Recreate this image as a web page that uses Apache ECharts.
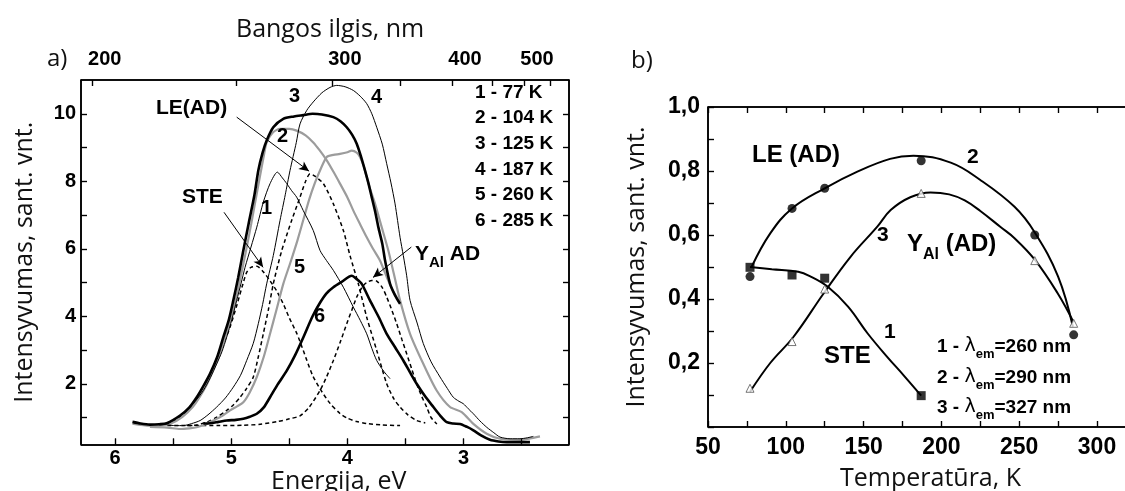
<!DOCTYPE html>
<html><head><meta charset="utf-8">
<script src="https://cdn.jsdelivr.net/npm/echarts@6/dist/echarts.min.js"></script>
<style>html,body{margin:0;padding:0;background:#fff;overflow:hidden}#c{width:1125px;height:491px}</style>
</head><body><div id="c"></div>
<script>
// ---------- Panel a: spectra, [energy eV, intensity] ----------
const spec77K = [[5.62,0.78],[5.555,0.81],[5.47,0.98],[5.383,1.21],[5.31,1.48],[5.24,1.80],[5.18,2.18],[5.125,2.59],[5.08,2.95],[5.039,3.38],[4.995,3.90],[4.953,4.47],[4.915,4.98],[4.881,5.45],[4.83,6.05],[4.78,6.64],[4.724,7.38],[4.666,7.93],[4.603,8.27],[4.56,8.10],[4.522,7.93],[4.48,7.72],[4.437,7.53],[4.38,7.13],[4.294,6.54],[4.236,5.95],[4.18,5.65],[4.121,5.36],[4.035,4.86],[3.949,4.27],[3.89,3.88],[3.834,3.48],[3.79,3.05],[3.748,2.69],[3.69,2.38],[3.633,2.15]];
const spec104K = [[5.85,0.82],[5.70,0.76],[5.60,0.77],[5.52,0.82],[5.42,1.02],[5.33,1.32],[5.27,1.62],[5.21,1.98],[5.16,2.36],[5.10,2.85],[5.05,3.40],[5.00,3.95],[4.96,4.50],[4.92,5.15],[4.875,5.90],[4.83,6.70],[4.785,7.55],[4.75,8.20],[4.72,8.75],[4.695,9.15],[4.64,9.45],[4.58,9.55],[4.50,9.55],[4.437,9.50],[4.36,9.36],[4.294,9.15],[4.24,8.92],[4.178,8.62],[4.12,8.28],[4.064,7.93],[4.00,7.52],[3.949,7.13],[3.89,6.72],[3.834,6.34],[3.78,6.00],[3.72,5.65],[3.66,5.15],[3.60,4.70],[3.54,4.35]];
const spec125K = [[5.85,0.87],[5.78,0.82],[5.70,0.79],[5.62,0.80],[5.555,0.83],[5.44,1.06],[5.36,1.30],[5.297,1.60],[5.24,1.93],[5.182,2.30],[5.12,2.80],[5.068,3.38],[5.02,3.90],[4.982,4.47],[4.94,5.15],[4.896,5.95],[4.85,6.75],[4.80,7.60],[4.767,8.32],[4.73,8.85],[4.695,9.21],[4.638,9.60],[4.552,9.85],[4.46,9.92],[4.38,9.96],[4.30,10.0],[4.22,9.98],[4.121,9.90],[4.06,9.78],[4.006,9.60],[3.96,9.38],[3.92,9.11],[3.885,8.75],[3.849,8.32],[3.82,7.95],[3.791,7.53],[3.76,7.08],[3.734,6.64],[3.70,6.15],[3.676,5.65],[3.633,4.96],[3.59,4.62],[3.547,4.37]];
const spec187K = [[5.55,0.78],[5.48,0.76],[5.412,0.76],[5.34,0.82],[5.268,0.91],[5.20,1.08],[5.125,1.31],[5.05,1.58],[4.982,1.90],[4.92,2.25],[4.867,2.69],[4.81,3.20],[4.767,3.78],[4.73,4.35],[4.695,4.96],[4.638,5.80],[4.58,6.84],[4.535,7.60],[4.494,8.32],[4.44,9.15],[4.408,9.70],[4.35,10.1],[4.294,10.35],[4.22,10.62],[4.15,10.78],[4.092,10.84],[4.02,10.80],[3.949,10.69],[3.89,10.52],[3.834,10.30],[3.79,10.0],[3.748,9.60],[3.70,9.10],[3.662,8.52],[3.625,7.95],[3.59,7.33],[3.547,6.34],[3.519,5.80],[3.49,5.20],[3.461,4.47],[3.40,3.80],[3.347,3.19],[3.28,2.65],[3.203,2.20],[3.14,1.86],[3.089,1.60],[3.04,1.48],[3.003,1.41],[2.96,1.26],[2.916,1.11],[2.86,0.90],[2.801,0.71],[2.74,0.55],[2.687,0.42],[2.60,0.37],[2.515,0.37],[2.45,0.40],[2.40,0.44]];
const spec260K = [[5.70,0.72],[5.55,0.70],[5.44,0.66],[5.36,0.68],[5.297,0.71],[5.22,0.80],[5.154,0.91],[5.08,1.04],[5.01,1.21],[4.95,1.33],[4.896,1.45],[4.84,1.75],[4.78,2.20],[4.72,2.80],[4.666,3.48],[4.61,4.20],[4.552,4.96],[4.49,5.60],[4.43,6.25],[4.38,6.85],[4.33,7.45],[4.28,7.95],[4.236,8.32],[4.178,8.72],[4.12,8.78],[4.064,8.81],[4.00,8.86],[3.963,8.91],[3.92,8.85],[3.892,8.72],[3.86,8.45],[3.834,8.12],[3.80,7.72],[3.762,7.33],[3.705,6.64],[3.648,5.95],[3.60,5.25],[3.547,4.47],[3.461,3.48],[3.347,2.59],[3.232,1.80],[3.117,1.31],[3.016,1.16],[2.916,0.81],[2.801,0.52],[2.687,0.37],[2.515,0.34],[2.343,0.44]];
const spec285K = [[5.24,0.82],[5.182,0.83],[5.11,0.87],[5.039,0.91],[4.96,0.93],[4.896,0.96],[4.84,1.02],[4.78,1.11],[4.72,1.30],[4.666,1.60],[4.60,1.98],[4.522,2.39],[4.45,2.85],[4.379,3.38],[4.30,4.00],[4.236,4.40],[4.18,4.68],[4.121,4.86],[4.05,5.02],[3.963,5.20],[3.92,5.10],[3.877,4.96],[3.806,4.47],[3.73,3.97],[3.662,3.48],[3.59,3.08],[3.519,2.69],[3.46,2.33],[3.404,2.00],[3.33,1.62],[3.26,1.31],[3.20,1.05],[3.145,0.86],[3.09,0.82],[3.031,0.81],[2.97,0.72],[2.916,0.62],[2.85,0.47],[2.773,0.34],[2.70,0.29],[2.629,0.27],[2.52,0.27],[2.429,0.27]];
const gaussSTE = [[5.62,0.78],[5.527,0.81],[5.45,1.00],[5.383,1.21],[5.31,1.52],[5.24,1.90],[5.18,2.30],[5.125,2.69],[5.07,3.15],[5.01,3.68],[4.95,4.35],[4.90,4.95],[4.867,5.30],[4.83,5.45],[4.78,5.48],[4.72,5.30],[4.666,5.05],[4.609,4.75],[4.55,4.35],[4.50,3.95],[4.437,3.50],[4.408,3.25],[4.35,2.70],[4.30,2.25],[4.236,1.85],[4.15,1.42],[4.064,1.12],[4.00,0.98],[3.92,0.88],[3.834,0.82],[3.70,0.78],[3.547,0.76]];
const gaussLE = [[5.38,0.76],[5.30,0.78],[5.211,0.86],[5.12,1.02],[5.039,1.21],[4.98,1.38],[4.924,1.60],[4.87,1.85],[4.81,2.20],[4.77,2.75],[4.724,3.48],[4.68,4.20],[4.638,4.96],[4.60,5.50],[4.565,5.95],[4.537,6.25],[4.48,6.84],[4.408,7.53],[4.36,8.00],[4.322,8.22],[4.28,8.15],[4.207,7.93],[4.121,7.33],[4.035,6.54],[3.978,5.80],[3.906,4.96],[3.834,3.97],[3.748,2.99],[3.662,2.00],[3.60,1.55],[3.547,1.31],[3.48,1.08],[3.404,0.91],[3.33,0.84]];
const gaussYAl = [[5.55,0.76],[5.30,0.76],[5.10,0.76],[4.90,0.77],[4.75,0.80],[4.60,0.88],[4.50,0.96],[4.408,1.05],[4.33,1.30],[4.236,1.80],[4.18,2.20],[4.121,2.69],[4.06,3.25],[4.006,3.78],[3.96,4.20],[3.92,4.57],[3.87,4.88],[3.834,5.00],[3.79,5.06],[3.748,5.04],[3.70,4.85],[3.662,4.57],[3.62,4.20],[3.576,3.78],[3.53,3.30],[3.49,2.89],[3.445,2.42],[3.404,2.00],[3.36,1.62],[3.318,1.31],[3.28,1.00],[3.23,0.81]];
// arrows [from, to] in data coords
const arrowLE = [[4.953,9.90],[4.33,8.30]];
const arrowSTE = [[5.062,7.08],[4.726,5.45]];
const arrowYAl = [[3.45,6.05],[3.78,5.15]];

// Panel a ticks
const energyTicks = [6,5.5,5,4.5,4,3.5,3,2.5];
const energyLabels = [6,5,4,3];
const wlTicks = [200,250,300,350,400,450,500,550];
const wlLabels = [200,300,400,500];
const intTicks = [1,2,3,4,5,6,7,8,9,10];
const intLabels = [2,4,6,8,10];

// ---------- Panel b: temperature dependences ----------
const tempK = [77,104,125,187,260,285];
const steVals = [0.499,0.475,0.465,0.098];
const leVals = [0.47,0.683,0.746,0.832,0.60,0.288];
const yalVals = [0.121,0.267,0.431,0.730,0.52,0.324];
const fitSTE = [[77,0.50],[91,0.493],[108,0.485],[116,0.47],[127,0.438],[140,0.376],[152.5,0.293],[165,0.22],[176,0.16],[187,0.098]];
const fitLE = [[78,0.50],[90,0.605],[104,0.683],[125,0.746],[146,0.798],[167,0.838],[182,0.848],[206,0.826],[225,0.772],[247,0.688],[260,0.608],[275,0.47],[284.5,0.313]];
const fitYAl = [[77,0.11],[90,0.20],[105,0.282],[124.4,0.418],[141.6,0.532],[158.8,0.626],[167.4,0.678],[180,0.718],[193,0.733],[205,0.727],[215,0.708],[225,0.675],[238,0.625],[247,0.59],[260,0.523],[274.7,0.418],[285,0.327]];
const tempTicks = [50,75,100,125,150,175,200,225,250,275,300,325];
const tempLabels = [50,100,150,200,250,300];
const relTicks = [0,0.1,0.2,0.3,0.4,0.5,0.6,0.7,0.8,0.9,1.0];
const relLabels = [0.2,0.4,0.6,0.8,1.0];

const NUM = 'Liberation Sans';
const TITLE = 'Open Sans';

function ax(extra) {
  const base = {
    type: 'value',
    axisLine: {show: true, onZero: false, lineStyle: {color: '#000', width: 1.5}},
    axisTick: {show: true, inside: true, length: 6, lineStyle: {color: '#000', width: 1.2}},
    splitLine: {show: false},
    minorTick: {show: false},
    axisLabel: {show: false}
  };
  return Object.assign(base, extra);
}
function lbl(size, margin, values, fmt, extra) {
  return Object.assign({show: true, customValues: values, color: '#000', fontFamily: NUM, fontWeight: 'bold', fontSize: size, margin: margin, formatter: fmt}, extra || {});
}
function ticks(values) {
  return {show: true, inside: true, length: 6, customValues: values, lineStyle: {color: '#000', width: 1.2}};
}
function yName(text, gap) {
  return {name: text, nameLocation: 'middle', nameGap: gap, nameRotate: 90, nameMoveOverlap: false,
    nameTextStyle: {fontFamily: TITLE, fontSize: 25, color: '#111', fontWeight: 'normal'}};
}

const gridA = {left: 81, top: 80, width: 488, height: 364.5};
const gridB = {left: 708, top: 107, width: 435.7, height: 320};
const xA = {min: 2.093, max: 6.293, inverse: true};
const yA = {min: 0.2, max: 11.0};
const xB = {min: 50, max: 330};
const yB = {min: 0, max: 1.0};

// tick length 6 px expressed in axis units
const TL = 6;
const dxA = TL * (xA.max - xA.min) / gridA.width;
const dyA = TL * (yA.max - yA.min) / gridA.height;
const dxB = TL * (xB.max - xB.min) / gridB.width;
const dyB = TL * (yB.max - yB.min) / gridB.height;

function seg(a, b, w) {
  const s = [{coord: a}, {coord: b}];
  if (w) s[0].lineStyle = {width: w, color: '#000', type: 'solid'};
  return s;
}
// Frame + inside ticks as mark lines (drawn through the axes' own scales)
const marksA = [
  seg([xA.max, yA.min], [xA.min, yA.min], 1.6),
  seg([xA.max, yA.max], [xA.min, yA.max], 1.6),
  seg([xA.max, yA.min], [xA.max, yA.max], 1.6),
  seg([xA.min, yA.min], [xA.min, yA.max], 1.6)
].concat(
  energyTicks.map(v => seg([v, yA.min], [v, yA.min + dyA])),
  wlTicks.map(w => seg([1240 / w, yA.max], [1240 / w, yA.max - dyA])),
  intTicks.map(v => seg([xA.max, v], [xA.max - dxA, v])),
  intTicks.map(v => seg([xA.min, v], [xA.min + dxA, v]))
);
const marksB = [
  seg([xB.min, yB.min], [xB.max, yB.min], 1.6),
  seg([xB.min, yB.max], [xB.max, yB.max], 1.6),
  seg([xB.min, yB.min], [xB.min, yB.max], 1.6)
].concat(
  tempTicks.map(t => seg([t, yB.min], [t, yB.min + dyB])),
  tempTicks.map(t => seg([t, yB.max], [t, yB.max - dyB])),
  relTicks.map(v => seg([xB.min, v], [xB.min + dxB, v]))
);
function frameMarks(data) {
  return {silent: true, animation: false, symbol: 'none', label: {show: false}, emphasis: {disabled: true},
    lineStyle: {color: '#000', width: 1.2, type: 'solid'}, data: data};
}

function line(data, color, width, dashed, extra) {
  return Object.assign({
    type: 'line', xAxisIndex: 0, yAxisIndex: 0, data: data, showSymbol: false, smooth: 0.25,
    lineStyle: {color: color, width: width, type: dashed ? [4, 3] : 'solid'},
    silent: true, z: 3
  }, extra || {});
}
function arrowPair(a) { return [{coord: a[0]}, {coord: a[1]}]; }

function T(text, left, top, size, opts) {
  opts = opts || {};
  const ts = {fontFamily: opts.family || NUM, fontWeight: opts.weight || 'bold', fontSize: size, color: opts.color || '#000'};
  if (opts.rich) ts.rich = opts.rich;
  return {text: text, left: left, top: top, padding: 0, itemGap: 0, textStyle: ts, triggerEvent: false};
}
function subRich(main, sub, pad) {
  return {
    n: {fontFamily: NUM, fontWeight: 'bold', fontSize: main, verticalAlign: 'bottom', padding: [0, 0, pad, 0], color: '#000'},
    l: {fontFamily: 'DejaVu Sans', fontWeight: 'normal', fontSize: main, verticalAlign: 'bottom', padding: [0, 0, pad, 0], color: '#000'},
    s: {fontFamily: NUM, fontWeight: 'bold', fontSize: sub, verticalAlign: 'bottom', color: '#000'}
  };
}
const TT = {family: TITLE, weight: 'normal', color: '#111'};

const option = {
  animation: false,
  backgroundColor: '#fff',
  grid: [
    Object.assign({outerBoundsMode: 'none', containLabel: false}, gridA),
    Object.assign({outerBoundsMode: 'none', containLabel: false}, gridB)
  ],
  xAxis: [
    ax(Object.assign({gridIndex: 0, position: 'bottom', axisTick: ticks(energyTicks),
      axisLabel: lbl(20, 4, energyLabels, v => String(v))}, xA)),
    ax(Object.assign({gridIndex: 0, position: 'top', axisTick: ticks(wlTicks.map(w => 1240 / w)),
      axisLabel: lbl(20, 11, wlLabels.map(w => 1240 / w), v => String(Math.round(1240 / v)), {padding: [0, 0, 0, 26]})}, xA)),
    ax(Object.assign({gridIndex: 1, position: 'bottom', axisTick: ticks(tempTicks),
      axisLabel: lbl(23, 9, tempLabels, v => String(v))}, xB)),
    ax(Object.assign({gridIndex: 1, position: 'top', axisTick: ticks(tempTicks)}, xB))
  ],
  yAxis: [
    ax(Object.assign({gridIndex: 0, position: 'left', axisTick: ticks(intTicks),
      axisLabel: lbl(20, 5, intLabels, v => String(v))}, yA, yName('Intensyvumas, sant. vnt.', 44))),
    ax(Object.assign({gridIndex: 0, position: 'right', axisTick: ticks(intTicks)}, yA)),
    ax(Object.assign({gridIndex: 1, position: 'left', axisTick: ticks(relTicks),
      axisLabel: lbl(23, 8, relLabels, v => v.toFixed(1).replace('.', ','))}, yB, yName('Intensyvumas, sant. vnt.', 59))),
    ax(Object.assign({gridIndex: 1, position: 'right', axisTick: ticks(relTicks)}, yB))
  ],
  series: [
    line(gaussSTE, '#000', 1.5, true, {
      markLine: {
        silent: true, animation: false, symbol: ['none', 'arrow'], symbolSize: [7, 10],
        label: {show: false}, emphasis: {disabled: true},
        lineStyle: {color: '#000', width: 1, type: 'solid'},
        data: [arrowPair(arrowLE), arrowPair(arrowSTE), arrowPair(arrowYAl)]
      }
    }),
    line(gaussLE, '#000', 1.5, true, {markLine: frameMarks(marksA)}),
    line(gaussYAl, '#000', 1.5, true),
    line(spec260K, '#9c9c9c', 2.2, false),
    line(spec104K, '#9c9c9c', 2.2, false),
    line(spec77K, '#000', 1.0, false),
    line(spec187K, '#000', 1.0, false),
    line(spec285K, '#000', 2.6, false),
    line(spec125K, '#000', 2.6, false),
    line(fitSTE, '#000', 2, false, {xAxisIndex: 2, yAxisIndex: 2, smooth: 0.4, markLine: frameMarks(marksB)}),
    line(fitLE, '#000', 2, false, {xAxisIndex: 2, yAxisIndex: 2, smooth: 0.4}),
    line(fitYAl, '#000', 2, false, {xAxisIndex: 2, yAxisIndex: 2, smooth: 0.4}),
    {type: 'scatter', xAxisIndex: 2, yAxisIndex: 2, symbol: 'rect', symbolSize: 9, silent: true, z: 5,
      itemStyle: {color: '#000'}, data: steVals.map((v, i) => [tempK[i], v])},
    {type: 'scatter', xAxisIndex: 2, yAxisIndex: 2, symbol: 'circle', symbolSize: 9, silent: true, z: 5,
      itemStyle: {color: '#000'}, data: leVals.map((v, i) => [tempK[i], v])},
    {type: 'scatter', xAxisIndex: 2, yAxisIndex: 2, symbol: 'triangle', symbolSize: 8, silent: true, z: 5,
      itemStyle: {color: '#fff', borderColor: '#555', borderWidth: 1}, data: yalVals.map((v, i) => [tempK[i], v])}
  ],
  title: [
    T('Bangos ilgis, nm', 236, 17, 25, TT),
    T('Energija, eV', 271, 469, 25, TT),
    T('Temperatūra, K', 840, 466, 25, TT),
    T('a)', 47, 47, 24, TT),
    T('b)', 631, 49, 24, TT),
    // panel a labels
    T('LE(AD)', 156, 97.5, 21),
    T('STE', 182, 186.5, 21),
    T('3', 289, 86, 20),
    T('4', 371, 87, 20),
    T('2', 277, 126, 20),
    T('1', 261, 198, 20),
    T('5', 294, 257, 20),
    T('6', 314, 306, 20),
    T('{n|Y}{s|Al}{n| AD}', 415, 243.5, 21, {rich: subRich(21, 15, 6)}),
    T('1 - 77 K', 475, 83.5, 19),
    T('2 - 104 K', 475, 108.5, 19),
    T('3 - 125 K', 475, 134.5, 19),
    T('4 - 187 K', 475, 160, 19),
    T('5 - 260 K', 475, 185.5, 19),
    T('6 - 285 K', 475, 211.5, 19),
    // panel b labels
    T('LE (AD)', 752, 143, 24),
    T('2', 967, 146.5, 21),
    T('3', 877, 224.5, 21),
    T('{n|Y}{s|Al}{n| (AD)}', 907, 232, 24, {rich: subRich(24, 16, 7)}),
    T('1', 884, 321.5, 21),
    T('STE', 824, 344, 24),
    T('{n|1 - }{l|λ}{s|em}{n|=260 nm}', 937, 337, 19, {rich: subRich(19, 13, 5)}),
    T('{n|2 - }{l|λ}{s|em}{n|=290 nm}', 937, 368, 19, {rich: subRich(19, 13, 5)}),
    T('{n|3 - }{l|λ}{s|em}{n|=327 nm}', 937, 398, 19, {rich: subRich(19, 13, 5)})
  ]
};

const chart = echarts.init(document.getElementById('c'));
chart.setOption(option);
</script></body></html>
